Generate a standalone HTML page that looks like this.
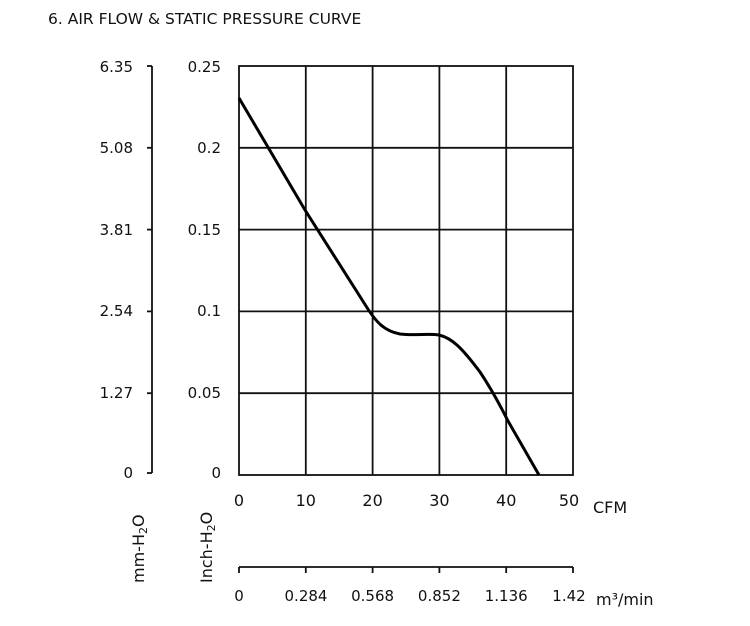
<!DOCTYPE html>
<html><head><style>
body{margin:0;background:#fff;}
svg{display:block;font-family:"DejaVu Sans","Liberation Sans",sans-serif;}
</style></head><body>
<svg width="750" height="626" viewBox="0 0 750 626" xmlns="http://www.w3.org/2000/svg">
<text x="48" y="24" font-size="15.5" fill="#111">6. AIR FLOW &amp; STATIC PRESSURE CURVE</text>
<g stroke="#111" stroke-width="1.8" fill="none">
<rect x="239" y="66" width="334" height="409"/>
<line x1="305.8" y1="66" x2="305.8" y2="475"/>
<line x1="372.6" y1="66" x2="372.6" y2="475"/>
<line x1="439.4" y1="66" x2="439.4" y2="475"/>
<line x1="506.2" y1="66" x2="506.2" y2="475"/>
<line x1="239" y1="147.8" x2="573" y2="147.8"/>
<line x1="239" y1="229.6" x2="573" y2="229.6"/>
<line x1="239" y1="311.4" x2="573" y2="311.4"/>
<line x1="239" y1="393.2" x2="573" y2="393.2"/>
<line x1="152" y1="66" x2="152" y2="473"/>
<line x1="147" y1="66" x2="152" y2="66"/>
<line x1="147" y1="147.8" x2="152" y2="147.8"/>
<line x1="147" y1="229.6" x2="152" y2="229.6"/>
<line x1="147" y1="311.4" x2="152" y2="311.4"/>
<line x1="147" y1="393.2" x2="152" y2="393.2"/>
<line x1="147" y1="473" x2="152" y2="473"/>
<line x1="239" y1="567" x2="573" y2="567"/>
<line x1="239" y1="567" x2="239" y2="573"/>
<line x1="305.8" y1="567" x2="305.8" y2="573"/>
<line x1="372.6" y1="567" x2="372.6" y2="573"/>
<line x1="439.4" y1="567" x2="439.4" y2="573"/>
<line x1="506.2" y1="567" x2="506.2" y2="573"/>
<line x1="573" y1="567" x2="573" y2="573"/>
</g>
<path d="M239,98 L305,210 L366,306 C376,322 384,331 400,334 C416,336 428,333 439,335 C452,338 462,348 480,372 C492,390 500,405 508,421 L539,475" stroke="#000" stroke-width="3" fill="none"/>
<g font-size="15" fill="#111" text-anchor="end">
<text x="133" y="72">6.35</text><text x="133" y="153">5.08</text><text x="133" y="235">3.81</text>
<text x="133" y="316">2.54</text><text x="133" y="398">1.27</text><text x="133" y="478">0</text>
<text x="221" y="72">0.25</text><text x="221" y="153">0.2</text><text x="221" y="235">0.15</text>
<text x="221" y="316">0.1</text><text x="221" y="398">0.05</text><text x="221" y="478">0</text>
</g>
<g font-size="16" fill="#111" text-anchor="middle">
<text x="239" y="506">0</text><text x="305.8" y="506">10</text><text x="372.6" y="506">20</text>
<text x="439.4" y="506">30</text><text x="506.2" y="506">40</text><text x="569" y="506">50</text>
</g>
<text x="593" y="513" font-size="16" fill="#111">CFM</text>
<g font-size="15" fill="#111" text-anchor="middle">
<text x="239" y="601">0</text><text x="306" y="601">0.284</text><text x="372.6" y="601">0.568</text>
<text x="439.4" y="601">0.852</text><text x="506.2" y="601">1.136</text><text x="569" y="601">1.42</text>
</g>
<text x="596" y="605" font-size="16" fill="#111">m³/min</text>
<text transform="translate(144,583) rotate(-90)" font-size="16" fill="#111">mm-H<tspan font-size="11" dy="3">2</tspan><tspan dy="-3">O</tspan></text>
<text transform="translate(212,583) rotate(-90)" font-size="16" fill="#111">Inch-H<tspan font-size="11" dy="3">2</tspan><tspan dy="-3">O</tspan></text>
</svg>
</body></html>
